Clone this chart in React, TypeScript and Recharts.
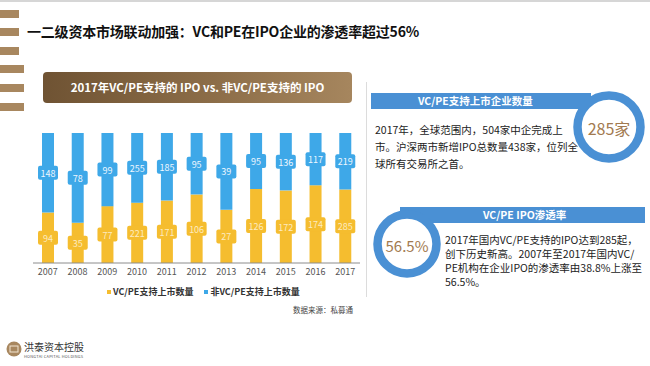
import { Bar, BarChart, LabelList, XAxis, YAxis } from 'recharts'

const YEARS = ['2007', '2008', '2009', '2010', '2011', '2012', '2013', '2014', '2015', '2016', '2017']
const VC_IPO = [94, 35, 77, 221, 171, 106, 27, 126, 172, 174, 285]
const NON_VC_IPO = [148, 78, 99, 255, 185, 95, 39, 95, 136, 117, 219]
const SERIES_NAMES = ['VC/PE支持上市数量', '非VC/PE支持上市数量']

const YELLOW = '#f5bd2f'
const BLUE = '#3ea8e8'
const RING_BLUE = '#4a90d4'
const BROWN_TEXT = '#a27a50'
const FONT = '"Noto Sans CJK SC", "Noto Sans", sans-serif'

const data = YEARS.map((year, i) => ({ year, vc: VC_IPO[i], nonVc: NON_VC_IPO[i] }))

/** Small rounded tag sitting on the middle of each bar segment. */
function tagRenderer(color: string, textColor: string) {
  return (props: any) => {
    const { x, y, width, height, value } = props
    const cx = Number(x) + Number(width) / 2
    const cy = Number(y) + Number(height) / 2
    return (
      <g>
        <rect x={cx - 10} y={cy - 7} width={20} height={14} rx={2} fill={color} />
        <text
          x={cx}
          y={cy + 0.5}
          textAnchor="middle"
          dominantBaseline="central"
          fontSize={9}
          fontFamily={FONT}
          fill={textColor}
        >
          {value}
        </text>
      </g>
    )
  }
}

function Ring({ cx, cy, r, label, size }: { cx: number; cy: number; r: number; label: string; size: number }) {
  return (
    <svg
      width={r * 2 + 4}
      height={r * 2 + 4}
      style={{ position: 'absolute', left: cx - r - 2, top: cy - r - 2 }}
    >
      <circle cx={r + 2} cy={r + 2} r={r - 4.5} fill="#fff" stroke={RING_BLUE} strokeWidth={8.5} />
      <text
        x={r + 2}
        y={r + 3}
        textAnchor="middle"
        dominantBaseline="central"
        fontSize={size}
        fontFamily={FONT}
        fill={BROWN_TEXT}
      >
        {label}
      </text>
    </svg>
  )
}

const stripe = (top: number, width: number) => (
  <div style={{ position: 'absolute', left: 0, top, width, height: 8, background: '#a8875f' }} />
)

const bodyText: React.CSSProperties = {
  position: 'absolute',
  fontSize: 10.5,
  lineHeight: '17px',
  color: '#222',
  fontFamily: FONT,
  whiteSpace: 'nowrap',
}

export default function App() {
  return (
    <div
      style={{
        position: 'absolute',
        left: 0,
        top: 0,
        width: 650,
        height: 366,
        background: '#fff',
        overflow: 'hidden',
        fontFamily: FONT,
      }}
    >
      <div style={{ position: 'absolute', left: 0, top: 0, width: 650, height: 2, background: '#d6d6d6' }} />
      {stripe(10, 19)}
      {stripe(28, 19)}
      {stripe(47, 19)}
      {stripe(65, 24)}
      {stripe(84, 24)}
      {stripe(103, 24)}

      <div
        style={{
          position: 'absolute',
          left: 27,
          top: 21,
          fontSize: 14,
          fontWeight: 700,
          letterSpacing: -0.2,
          color: '#111',
          whiteSpace: 'nowrap',
        }}
      >
        一二级资本市场联动加强：VC和PE在IPO企业的渗透率超过56%
      </div>

      <div
        style={{
          position: 'absolute',
          left: 43,
          top: 72,
          width: 309,
          height: 31,
          borderRadius: 4,
          background: 'linear-gradient(90deg, #6f5333 0%, #8c6d48 55%, #a6865e 100%)',
          color: '#fff',
          fontSize: 11.5,
          fontWeight: 700,
          lineHeight: '31px',
          textAlign: 'center',
          whiteSpace: 'nowrap',
        }}
      >
        2017年VC/PE支持的 IPO vs. 非VC/PE支持的 IPO
      </div>

      <div style={{ position: 'absolute', left: 0, top: 120 }}>
        <BarChart
          width={370}
          height={165}
          data={data}
          stackOffset="expand"
          barSize={12}
          margin={{ top: 13, right: 10, left: 33, bottom: 0 }}
        >
          <XAxis
            dataKey="year"
            height={22}
            interval={0}
            axisLine={{ stroke: '#8c8c8c' }}
            tickLine={false}
            tickSize={4}
            tickMargin={2}
            tick={{ fill: '#555', fontSize: 9, fontFamily: FONT }}
          />
          <YAxis hide domain={[0, 1]} />
          <Bar dataKey="vc" stackId="ipo" fill={YELLOW} isAnimationActive={false}>
            <LabelList dataKey="vc" content={tagRenderer(YELLOW, '#fdebc0')} />
          </Bar>
          <Bar dataKey="nonVc" stackId="ipo" fill={BLUE} isAnimationActive={false}>
            <LabelList dataKey="nonVc" content={tagRenderer(BLUE, '#eef7ff')} />
          </Bar>
        </BarChart>
      </div>

      {/* legend */}
      <div style={{ position: 'absolute', left: 107, top: 285, display: 'flex', gap: 11, fontSize: 9, fontWeight: 700, color: '#333', whiteSpace: 'nowrap' }}>
        {[YELLOW, BLUE].map((c, i) => (
          <div key={c} style={{ display: 'flex', alignItems: 'center', gap: 2 }}>
            <span style={{ display: 'inline-block', width: 4, height: 4, background: c }} />
            <span>{SERIES_NAMES[i]}</span>
          </div>
        ))}
      </div>
      <div style={{ position: 'absolute', left: 293, top: 304, fontSize: 7.5, color: '#444', whiteSpace: 'nowrap' }}>
        数据来源：私募通
      </div>

      {/* right side panels */}
      <div style={{ position: 'absolute', left: 366, top: 82, width: 1, height: 215, background: '#dcdcdc' }} />

      <div
        style={{
          position: 'absolute',
          left: 371,
          top: 93,
          width: 220,
          height: 16,
          background: RING_BLUE,
          color: '#fff',
          fontSize: 10.5,
          fontWeight: 700,
          lineHeight: '16px',
          paddingLeft: 47,
          boxSizing: 'border-box',
          whiteSpace: 'nowrap',
        }}
      >
        VC/PE支持上市企业数量
      </div>
      <Ring cx={609} cy={127} r={36} label="285家" size={16} />
      <div style={{ ...bodyText, left: 375, top: 121 }}>
        2017年，全球范围内，504家中企完成上
        <br />
        市。沪深两市新增IPO总数量438家，位列全
        <br />
        球所有交易所之首。
      </div>

      <div
        style={{
          position: 'absolute',
          left: 400,
          top: 207,
          width: 245,
          height: 16,
          background: RING_BLUE,
          color: '#fff',
          fontSize: 10.5,
          fontWeight: 700,
          lineHeight: '16px',
          paddingLeft: 83,
          boxSizing: 'border-box',
          whiteSpace: 'nowrap',
        }}
      >
        VC/PE IPO渗透率
      </div>
      <Ring cx={407} cy={244} r={34} label="56.5%" size={15} />
      <div style={{ ...bodyText, left: 445, top: 233, lineHeight: '14px' }}>
        2017年国内VC/PE支持的IPO达到285起，
        <br />
        创下历史新高。2007年至2017年国内VC/
        <br />
        PE机构在企业IPO的渗透率由38.8%上涨至
        <br />
        56.5%。
      </div>

      {/* logo */}
      <svg width={16} height={16} style={{ position: 'absolute', left: 6, top: 341 }}>
        <circle cx={8} cy={8} r={7.5} fill="#a8875f" />
        <rect x={4} y={5} width={8} height={6} fill="none" stroke="#f3e6d2" strokeWidth={1} />
      </svg>
      <div style={{ position: 'absolute', left: 24, top: 339, fontSize: 10, color: '#333', whiteSpace: 'nowrap' }}>
        洪泰资本控股
      </div>
      <div style={{ position: 'absolute', left: 24, top: 353, fontSize: 4, color: '#555', whiteSpace: 'nowrap', letterSpacing: 0.2 }}>
        HONGTAI CAPITAL HOLDINGS
      </div>
    </div>
  )
}
